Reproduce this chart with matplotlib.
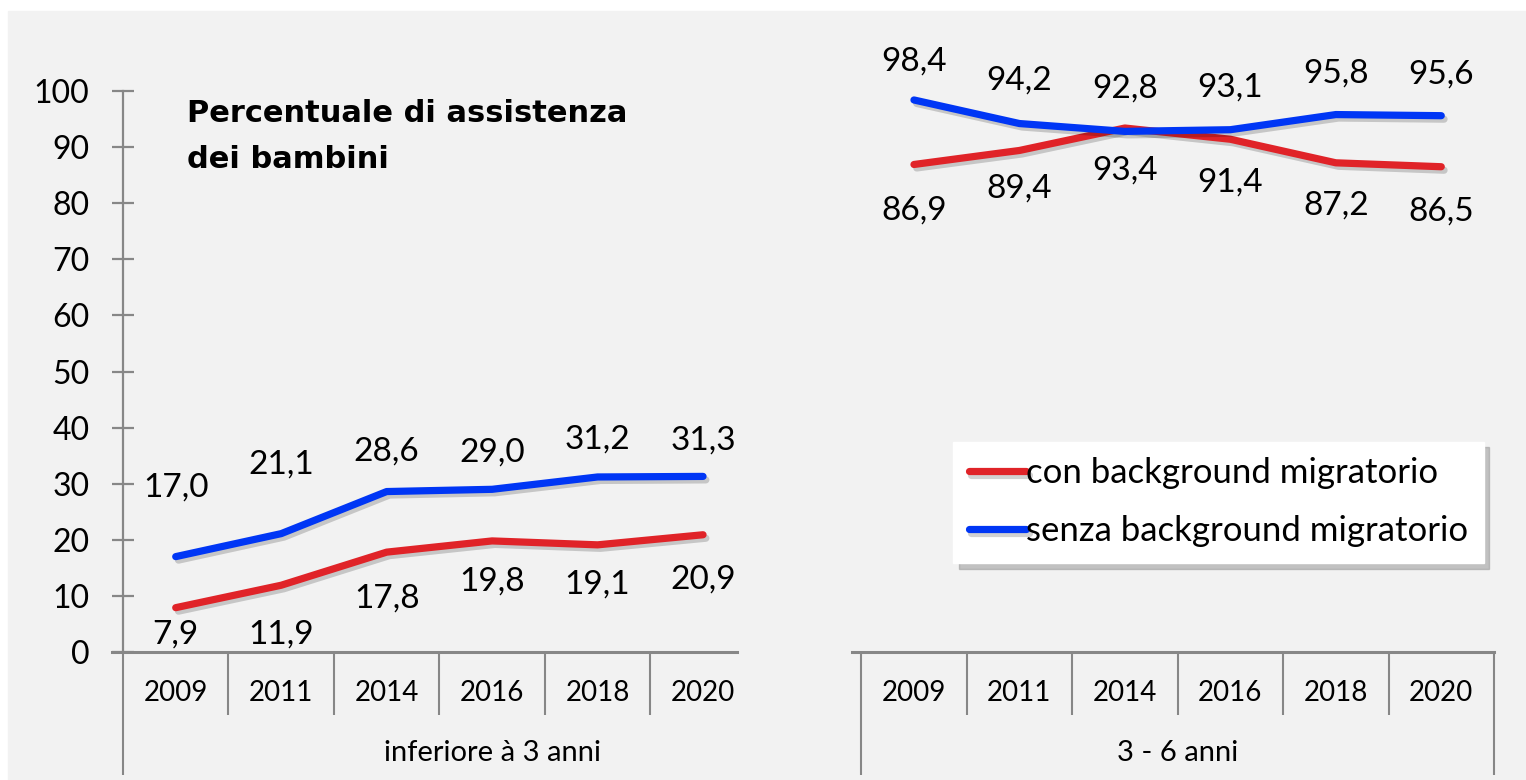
import matplotlib
matplotlib.use("Agg")
import matplotlib.pyplot as plt
import matplotlib.patheffects as pe
from matplotlib.patches import Rectangle

# dati
anni = ['2009', '2011', '2014', '2016', '2018', '2020']
gruppi = ['inferiore à 3 anni', '3 - 6 anni']
con_bg = [[7.9, 11.9, 17.8, 19.8, 19.1, 20.9],
          [86.9, 89.4, 93.4, 91.4, 87.2, 86.5]]
senza_bg = [[17.0, 21.1, 28.6, 29.0, 31.2, 31.3],
            [98.4, 94.2, 92.8, 93.1, 95.8, 95.6]]
serie = ['con background migratorio', 'senza background migratorio']

# spostamento etichette (pixel, verso l'alto)
dy_con = [[-27, -49, -46, -41, -40, -45], [-46, -38, -43, -43, -43, -45]]
dy_senza = [[69, 69, 40, 37, 37, 36], [38, 43, 43, 42, 41, 41]]

ROSSO = '#e02328'
BLU = '#0036f5'
GRIGIO = '#878787'
FONT = 'Lato'

fig = plt.figure(figsize=(15.26, 7.80), dpi=100, facecolor='white')
fig.patches.append(Rectangle((8 / 1526, 0), 1, (780 - 11) / 780,
                             transform=fig.transFigure, color='#f2f2f2', zorder=-10))

ax = fig.add_axes([123 / 1526, 128 / 780, 1371 / 1526, 561 / 780])
ax.set_facecolor('none')
ax.set_xlim(0, 13)
ax.set_ylim(0, 100)

ombra = [pe.SimpleLineShadow(offset=(2, -2.5), shadow_color='k', alpha=0.18), pe.Normal()]

# centro delle etichette di gruppo (il primo gruppo include la categoria vuota)
centro_gruppo = [3.5, 10]

for g in range(2):
    x0 = g * 7
    xs = [x0 + i + 0.5 for i in range(len(anni))]
    ax.plot(xs, con_bg[g], color=ROSSO, lw=5.2, solid_capstyle='round',
            path_effects=ombra, clip_on=False, zorder=3,
            label=serie[0] if g == 0 else None)
    ax.plot(xs, senza_bg[g], color=BLU, lw=5.2, solid_capstyle='round',
            path_effects=ombra, clip_on=False, zorder=3,
            label=serie[1] if g == 0 else None)
    for i, x in enumerate(xs):
        ax.annotate(f"{con_bg[g][i]:.1f}".replace('.', ','), (x, con_bg[g][i]),
                    xytext=(0, dy_con[g][i]), textcoords='offset pixels',
                    ha='center', va='center', fontsize=24, family=FONT,
                    annotation_clip=False)
        ax.annotate(f"{senza_bg[g][i]:.1f}".replace('.', ','), (x, senza_bg[g][i]),
                    xytext=(0, dy_senza[g][i]), textcoords='offset pixels',
                    ha='center', va='center', fontsize=24, family=FONT,
                    annotation_clip=False)
        ax.text(x, -7.3, anni[i], ha='center', va='center', fontsize=20, family=FONT)
    ax.text(centro_gruppo[g], -18.0, gruppi[g], ha='center', va='center', fontsize=21,
            family=FONT)

# assi in stile Excel
for s in ['top', 'right', 'bottom']:
    ax.spines[s].set_visible(False)
ax.spines['left'].set_color(GRIGIO)
ax.spines['left'].set_linewidth(1.6)
ax.set_yticks(range(0, 101, 10))
ax.tick_params(axis='y', direction='inout', length=16.5, width=1.6,
               color=GRIGIO, labelsize=23, pad=16)
for lab in ax.get_yticklabels():
    lab.set_family(FONT)
ax.set_xticks([])

ax.plot([-0.1, 5.82], [0, 0], color=GRIGIO, lw=2.2, clip_on=False, zorder=2)
ax.plot([6.91, 13], [0, 0], color=GRIGIO, lw=2.2, clip_on=False, zorder=2)
ax.vlines([1, 2, 3, 4, 5, 8, 9, 10, 11, 12], -11.2, 0, color=GRIGIO, lw=1.5, clip_on=False)
ax.vlines([0, 7, 13], -21.9, 0, color=GRIGIO, lw=1.5, clip_on=False)

fig.text(187 / 1526, 1 - 99 / 780, 'Percentuale di assistenza\ndei bambini',
         ha='left', va='top', fontsize=22, fontweight='bold', family='DejaVu Sans',
         linespacing=1.72)

leg = ax.legend(loc='lower left', bbox_to_anchor=(953 / 1526, (780 - 563) / 780),
                bbox_transform=fig.transFigure, prop={'family': FONT, 'size': 25},
                frameon=True, fancybox=False, edgecolor='white', facecolor='white',
                framealpha=1, handlelength=1.65, handletextpad=0.0, labelspacing=0.75,
                borderpad=0.45, borderaxespad=0,
                shadow={'color': '#9a9a9a', 'alpha': 0.55, 'ox': 4, 'oy': -4})

fig.savefig('out.png', dpi=100, facecolor=fig.get_facecolor())
